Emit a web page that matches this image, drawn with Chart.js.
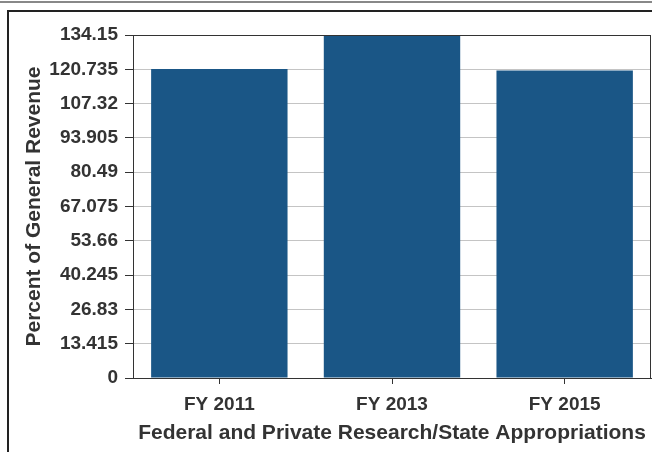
<!DOCTYPE html>
<html>
<head>
<meta charset="utf-8">
<script src="https://cdn.jsdelivr.net/npm/chart.js@4/dist/chart.umd.min.js"></script>
<style>
    html, body { margin: 0; padding: 0; background: #fff; }
    #wrap { position: relative; width: 652px; height: 452px; overflow: hidden; }
    #topline { position: absolute; left: 0; top: 1px; width: 652px; height: 2px; background: #888; }
    #frame { position: absolute; left: 7px; top: 10px; width: 700px; height: 500px;
             border-left: 2px solid #222; border-top: 2px solid #222; }
    #chart { position: absolute; left: 0; top: 0; }
</style>
</head>
<body>
<div id="wrap">
    <div id="topline"></div>
    <div id="frame"></div>
    <canvas id="chart" width="652" height="452"></canvas>
</div>
<script>
const categories = ["FY 2011", "FY 2013", "FY 2015"];
const values = [120.9, 134.15, 120.3];
const tickValues = [0, 13.415, 26.83, 40.245, 53.66, 67.075, 80.49, 93.905, 107.32, 120.735, 134.15];
const tickLabels = ["0", "13.415", "26.83", "40.245", "53.66", "67.075", "80.49", "93.905", "107.32", "120.735", "134.15"];

const textColor = "#333";
const fontName = "'Liberation Sans', Arial, sans-serif";

// dark border round the plot area
const plotBorder = {
    id: "plotBorder",
    afterDraw(chart) {
        const { ctx, chartArea: a } = chart;
        ctx.save();
        ctx.strokeStyle = "#333";
        ctx.lineWidth = 1;
        ctx.strokeRect(a.left + 0.5, a.top + 0.5, a.right - a.left - 1, a.bottom - a.top);
        ctx.restore();
    },
};

const ctx = document.getElementById("chart").getContext("2d");
const chart = new Chart(ctx, {
    type: "bar",
    data: {
        labels: categories,
        datasets: [
            {
                data: values,
                backgroundColor: "#1a5686",
                barPercentage: 0.79,
                categoryPercentage: 1,
            },
        ],
    },
    options: {
        responsive: false,
        animation: false,
        layout: { padding: { left: 0, top: 35, right: 1, bottom: 0 } },
        plugins: {
            legend: { display: false },
            tooltip: { enabled: false },
        },
        scales: {
            x: {
                grid: { offset: false, drawOnChartArea: false, tickLength: 6, color: "#333" },
                border: { color: "#333" },
                ticks: {
                    color: textColor,
                    padding: 9,
                    font: { family: fontName, size: 19, weight: "bold" },
                },
                title: {
                    display: true,
                    text: "Federal and Private Research/State Appropriations",
                    color: textColor,
                    padding: { top: 0, bottom: 6 },
                    font: { family: fontName, size: 21, weight: "bold" },
                },
                afterFit(scale) {
                    scale.height = 74;
                },
            },
            y: {
                min: 0,
                max: 134.15,
                grid: { color: "#c4c4c4", tickColor: "#333", tickLength: 8 },
                border: { color: "#333" },
                afterBuildTicks(scale) {
                    scale.ticks = tickValues.map((v) => ({ value: v }));
                },
                ticks: {
                    color: textColor,
                    padding: 7,
                    font: { family: fontName, size: 19, weight: "bold" },
                    callback: (value, index) => tickLabels[index],
                },
                title: {
                    display: true,
                    text: "Percent of General Revenue",
                    color: textColor,
                    padding: { top: 22, bottom: 0 },
                    font: { family: fontName, size: 21, weight: "bold" },
                },
                afterFit(scale) {
                    scale.width = 133;
                },
            },
        },
    },
    plugins: [plotBorder],
});
</script>
</body>
</html>
